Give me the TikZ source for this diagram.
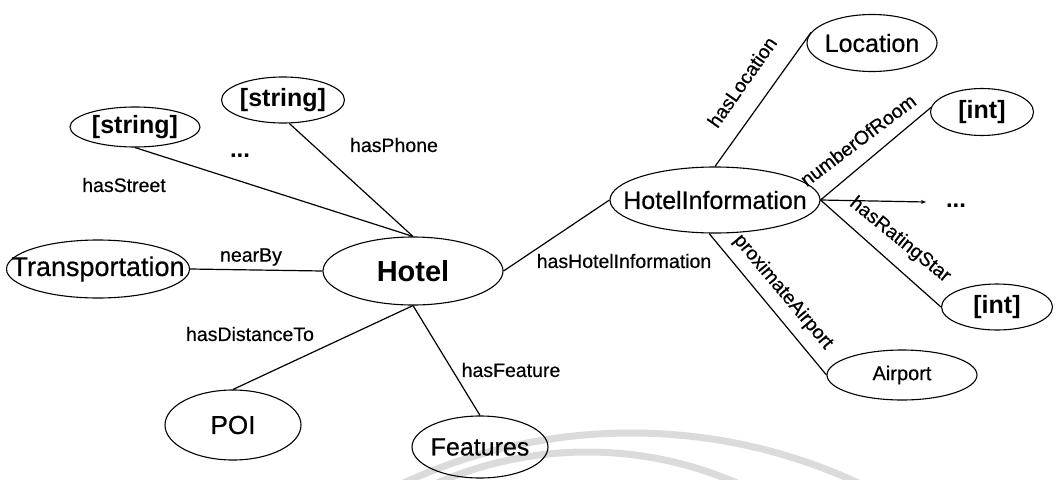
\documentclass[tikz,border=0pt]{standalone}
\usepackage{fontspec}
\setmainfont{Liberation Sans}
\newfontfamily\heavyfont{Liberation Sans}[FakeBold=0.5]
\usetikzlibrary{shapes.geometric,arrows.meta}

% keep the node text from widening its ellipse
\newcommand\conceptlabel[1]{\makebox[0pt]{#1}}

\tikzset{
  concept/.style={draw, ellipse, line width=1.1pt, inner sep=0pt},
  link/.style={line width=1.2pt},
  rel/.style={inner sep=0pt, font=\heavyfont\fontsize{19.5}{20}\selectfont},
  big/.style={font=\heavyfont\fontsize{25}{26}\selectfont},
  literal/.style={font=\bfseries\fontsize{25}{26}\selectfont},
  faint/.style={line width=7pt, black!14},
}

\begin{document}
\begin{tikzpicture}[x=1pt, y=-1pt]
\useasboundingbox (0,0) rectangle (1056,479);

% light arcs in the background
\begin{scope}
  \clip (0,0) rectangle (1056,479);
  \draw[faint] (631,973) circle[radius=540];
  \draw[faint] (587,828) circle[radius=376];
\end{scope}

% concepts
\node[concept, literal, minimum width=130, minimum height=40] (street) at (135,127) {\conceptlabel{[string]}};
\node[concept, literal, minimum width=123, minimum height=46] (phone) at (283,100) {\conceptlabel{[string]}};
\node[concept, font=\heavyfont\fontsize{27}{28}\selectfont, minimum width=183, minimum height=58] (trans) at (98,269) {\conceptlabel{Transportation}};
\node[concept, font=\bfseries\fontsize{29}{30}\selectfont, minimum width=180, minimum height=68] (hotel) at (413,271) {\conceptlabel{Hotel}};
\node[concept, font=\heavyfont\fontsize{26}{27}\selectfont, minimum width=136, minimum height=70] (poi) at (233,425) {\conceptlabel{POI}};
\node[concept, big, minimum width=136, minimum height=62] (feat) at (480,447) {\conceptlabel{Features}};
\node[concept, big, minimum width=210, minimum height=66] (hinfo) at (715,200) {\conceptlabel{HotelInformation}};
\node[concept, big, minimum width=130, minimum height=57] (loc) at (872,43) {\conceptlabel{Location}};
\node[concept, literal, minimum width=103, minimum height=47] (int1) at (982,112) {\conceptlabel{[int]}};
\node[concept, literal, minimum width=111, minimum height=46] (int2) at (997,307) {\conceptlabel{[int]}};
\node[concept, font=\heavyfont\fontsize{20}{21}\selectfont, minimum width=150, minimum height=50] (air) at (902,375) {\conceptlabel{Airport}};

% elided properties
\node[inner sep=0pt, font=\bfseries\fontsize{24}{25}\selectfont] (dots1) at (240,156) {...};
\node[inner sep=0pt, font=\bfseries\fontsize{24}{25}\selectfont] (dots2) at (956,206) {...};
\coordinate (dotsend) at (926,202);

% properties of Hotel
\draw[link] (street.south) -- (hotel.north);
\draw[link] (phone.285) -- (hotel.north);
\draw[link] (trans.east) -- (hotel.west);
\draw[link] (hotel.south) -- (poi.north);
\draw[link] (hotel.south) -- (feat.north);
\draw[link] (hotel.east) -- (hinfo.west);

% properties of HotelInformation
\draw[link] (hinfo.north) -- (loc.170);
\draw[link] (hinfo.east) -- (int1.175);
\draw[link, -{Stealth[length=5pt, width=4pt]}] (hinfo.east) -- (dotsend);
\draw[link] (hinfo.east) -- (int2.west);
\draw[link] (hinfo.260) -- (air.west);

% property names
\node[rel] (lstreet) at (124,185) {hasStreet};
\node[rel] (lphone) at (394,145) {hasPhone};
\node[rel] (lnear) at (251,257) {nearBy};
\node[rel] (ldist) at (250,334) {hasDistanceTo};
\node[rel] (lfeat) at (511,370) {hasFeature};
\node[rel] (lhinfo) at (624,261) {hasHotelInformation};
\node[rel, rotate=55] (lloc) at (742,82) {hasLocation};
\node[rel, rotate=37] (lrooms) at (858,140) {numberOfRoom};
\node[rel, rotate=-39] (lstar) at (900,240) {hasRatingStar};
\node[rel, rotate=-50] (lair) at (783,292) {proximateAirport};
\end{tikzpicture}
\end{document}
